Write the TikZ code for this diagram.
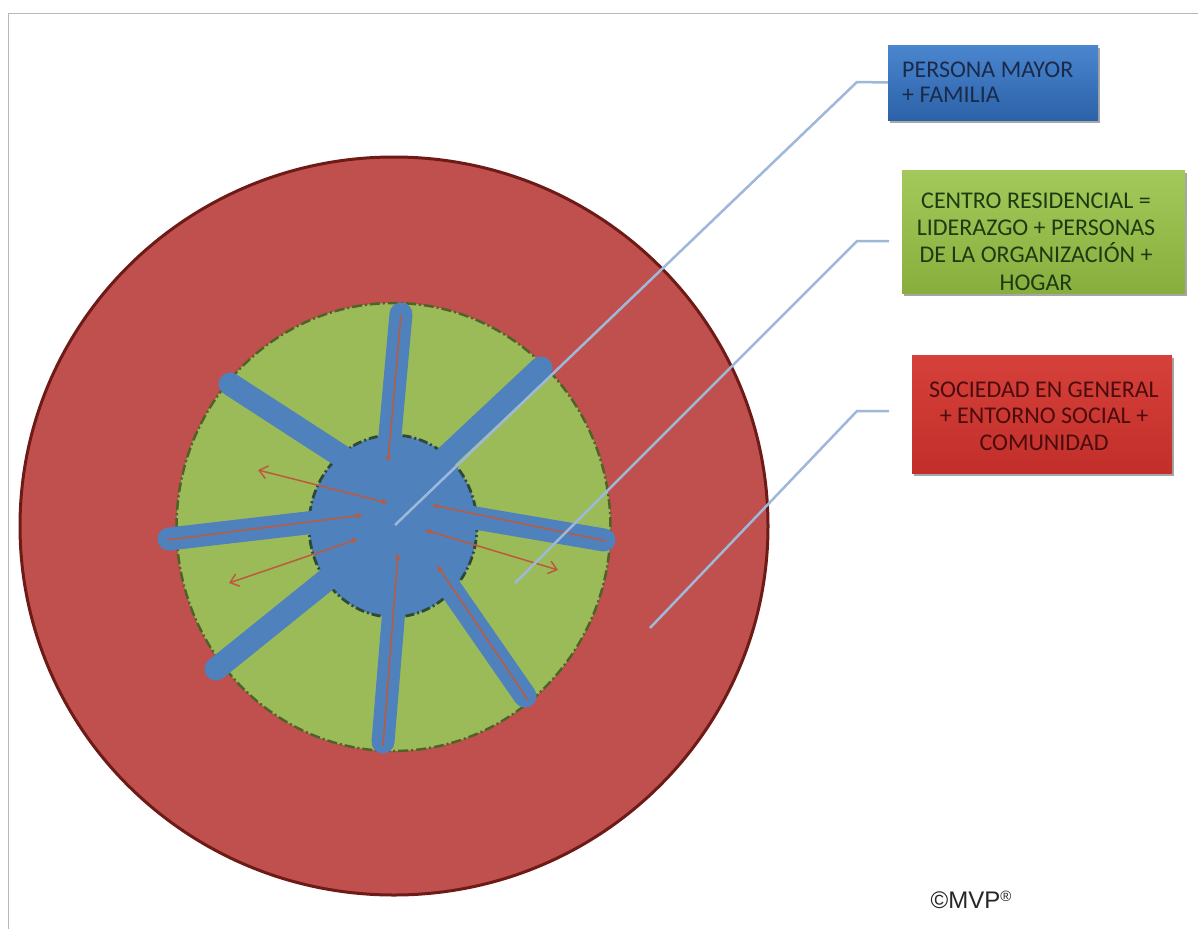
\documentclass[tikz,border=0pt]{standalone}
\usepackage{fontspec}
\newfontfamily\carl{Carlito}
\newfontfamily\arl{Liberation Sans}
\usetikzlibrary{arrows.meta,shadows}
\definecolor{cred}{HTML}{C0504D}
\definecolor{cdarkred}{HTML}{6E1B18}
\definecolor{cgreen}{HTML}{9BBB59}
\definecolor{cdkgreen}{HTML}{4F6228}
\definecolor{cblue}{HTML}{4F81BD}
\definecolor{cinner}{HTML}{2E4A36}
\definecolor{carrow}{HTML}{BE5A3C}
\definecolor{cconn}{HTML}{9EB8DA}
\definecolor{cframe}{HTML}{B8B8B8}
\definecolor{bonetop}{HTML}{4A86CF}
\definecolor{bonebot}{HTML}{2C62A8}
\definecolor{bonetxt}{HTML}{1B2A4A}
\definecolor{btwotop}{HTML}{A3C95A}
\definecolor{btwobot}{HTML}{88AE3E}
\definecolor{btwotxt}{HTML}{1D3B12}
\definecolor{bthreetop}{HTML}{D6403A}
\definecolor{bthreebot}{HTML}{C22F2A}
\definecolor{bthreetxt}{HTML}{4A0C0C}
\begin{document}
\begin{tikzpicture}[x=1pt,y=-1pt,
  spoke/.style={draw=cblue, line width=23pt, line cap=round},
  redline/.style={draw=carrow, line width=1.5pt},
  inhead/.style={-{Latex[length=6pt,width=6pt]}},
  twohead/.style={{Latex[length=6pt,width=6pt]}-{Straight Barb[length=8pt,width=13pt,line width=1.5pt]}},
  conn/.style={draw=cconn, line width=2.5pt},
  legendbox/.style={rectangle, inner sep=0pt, draw=none,
    drop shadow={shadow xshift=2pt, shadow yshift=-3pt, fill=black, opacity=0.35}},
  legendtext/.style={inner sep=0pt, font=\carl\fontsize{24}{27.3}\selectfont}]
\useasboundingbox (0,0) rectangle (1198,929);
\fill[white] (0,0) rectangle (1198,929);
\draw[cframe, line width=1.5pt] (8.5,929) -- (8.5,13.5) -- (1198,13.5);

% rings
\draw[fill=cred, draw=cdarkred, line width=3pt] (394,526) ellipse [x radius=374pt, y radius=369pt];
\draw[fill=cgreen, draw=cdkgreen, line width=2.5pt, dash pattern=on 10pt off 3pt on 2pt off 3pt] (393.5,527) ellipse [x radius=217pt, y radius=224pt];
\draw[fill=cblue, draw=cinner, line width=2.8pt, dash pattern=on 9pt off 3pt on 2pt off 3pt] (393,526) ellipse [x radius=84pt, y radius=91pt];

% spokes
\coordinate (sTop) at (401,314); \coordinate (iTop) at (386,480);
\coordinate (sUL) at (230,384);  \coordinate (iUL) at (355,465);
\coordinate (sUR) at (541,368);  \coordinate (iUR) at (430,472);
\coordinate (sL) at (169,539);   \coordinate (iL) at (350,518);
\coordinate (sR) at (604,540);   \coordinate (iR) at (440,512);
\coordinate (sLL) at (216,669);  \coordinate (iLL) at (350,561);
\coordinate (sB) at (383,742);   \coordinate (iB) at (398,560);
\coordinate (sLR) at (525,696);  \coordinate (iLR) at (430,559);
\foreach \s in {Top,UL,UR,L,R,LL,B,LR} { \draw[spoke] (s\s) -- (i\s); }

% red arrows
\coordinate (aTopS) at (401,315); \coordinate (aTopE) at (388,462);
\coordinate (aLS) at (167,540);   \coordinate (aLE) at (363,515);
\coordinate (aBS) at (383,746);   \coordinate (aBE) at (398,553);
\coordinate (aLRS) at (528,700);  \coordinate (aLRE) at (437,565);
\coordinate (aRS) at (606,541);   \coordinate (aRE) at (432,505);
\foreach \a in {Top,L,B,LR,R} { \draw[redline, inhead] (a\a S) -- (a\a E); }
\coordinate (fULi) at (388,503); \coordinate (fULo) at (258,470);
\coordinate (fLLi) at (358,539); \coordinate (fLLo) at (229,583);
\coordinate (fRi) at (425,530);  \coordinate (fRo) at (558,570);
\draw[redline, twohead] (fULi) -- (fULo);
\draw[redline, twohead] (fLLi) -- (fLLo);
\draw[redline, twohead] (fRi) -- (fRo);

% legend boxes
\node[legendbox, minimum width=210pt, minimum height=75pt,
  top color=bonetop, bottom color=bonebot] (b1) at (993,82.5) {};
\node[legendbox, minimum width=283pt, minimum height=123pt,
  top color=btwotop, bottom color=btwobot] (b2) at (1043.5,231.5) {};
\node[legendbox, minimum width=260pt, minimum height=118pt,
  top color=bthreetop, bottom color=bthreebot] (b3) at (1042,414) {};

\node[legendtext, anchor=west, align=left, text=bonetxt,
  font=\carl\fontsize{24}{25}\selectfont] (t1) at (902,82) {PERSONA MAYOR\\+ FAMILIA};
\node[legendtext, align=center, text=btwotxt] (t2) at (1036,241.5)
  {CENTRO RESIDENCIAL =\\LIDERAZGO + PERSONAS\\DE LA ORGANIZACIÓN +\\HOGAR};
\node[legendtext, align=center, text=bthreetxt,
  font=\carl\fontsize{24}{26.5}\selectfont] (t3) at (1044,416)
  {SOCIEDAD EN GENERAL\\+ ENTORNO SOCIAL +\\COMUNIDAD};

% connectors
\coordinate (c1) at (395,525); \coordinate (e1) at (857,82);
\coordinate (c2) at (515,583); \coordinate (e2) at (857,241); \coordinate (f2) at (889,241);
\coordinate (c3) at (650,628); \coordinate (e3) at (857,411); \coordinate (f3) at (889,411);
\draw[conn] (c1) -- (e1) -- (b1.west);
\draw[conn] (c2) -- (e2) -- (f2);
\draw[conn] (c3) -- (e3) -- (f3);

% copyright
\node[inner sep=0pt, font=\arl\fontsize{24}{24}\selectfont, text=black!85] (copy) at (971,900)
  {©MVP{\fontsize{15}{15}\selectfont\raisebox{6.5pt}{®}}};
\end{tikzpicture}
\end{document}
